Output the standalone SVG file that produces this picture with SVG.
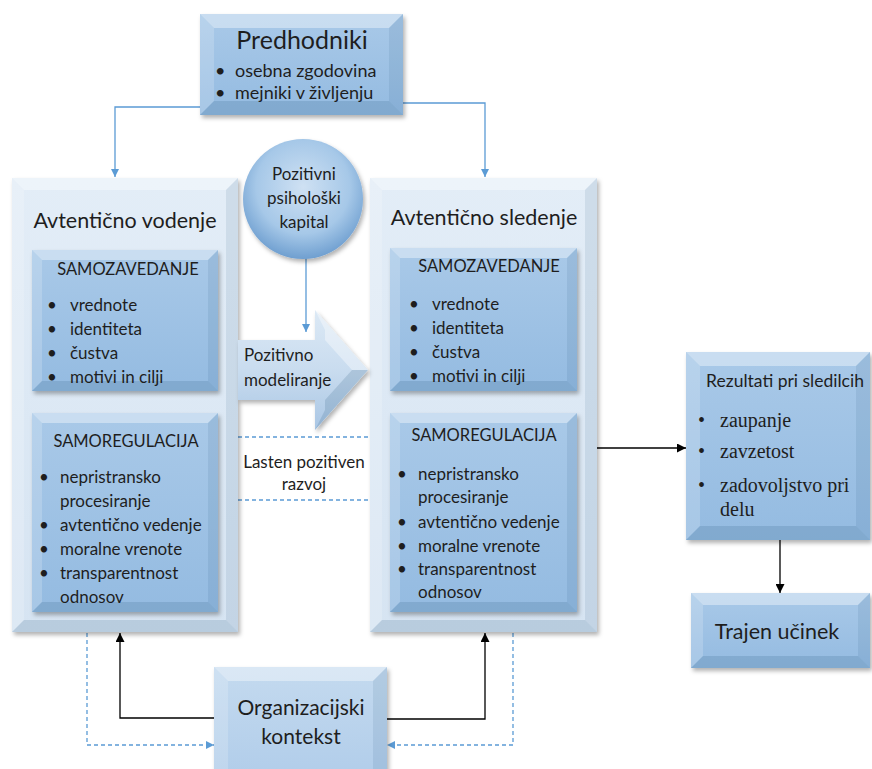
<svg xmlns="http://www.w3.org/2000/svg" width="872" height="769" viewBox="0 0 872 769">
  <defs>
    <style>
      .sans { font-family: Lato, "Liberation Sans", sans-serif; fill: #1e1e1e; }
      .serif { font-family: "Liberation Serif", "DejaVu Serif", serif; fill: #1e1e1e; }
      .bt { fill: #ffffff; opacity: 0.38; }
      .bl { fill: #ffffff; opacity: 0.18; }
      .br { fill: #1f4e79; opacity: 0.10; }
      .bb { fill: #1f4e79; opacity: 0.16; }
      .mid { fill: url(#gMid); }
      .pale { fill: url(#gPale); }
      .soft { fill: url(#gSoft); }
      .blue { stroke: #5b9bd5; stroke-width: 1.3; fill: none; }
      .dash { stroke-dasharray: 4 3; }
      .black { stroke: #000; stroke-width: 1.3; fill: none; }
    </style>
    <linearGradient id="gMid" x1="0" y1="0" x2="0" y2="1">
      <stop offset="0" stop-color="#a9c9e8"/>
      <stop offset="1" stop-color="#94bbe1"/>
    </linearGradient>
    <linearGradient id="gPale" x1="0" y1="0" x2="0" y2="1">
      <stop offset="0" stop-color="#e3edf7"/>
      <stop offset="1" stop-color="#d6e4f2"/>
    </linearGradient>
    <linearGradient id="gSoft" x1="0" y1="0" x2="0" y2="1">
      <stop offset="0" stop-color="#c4daef"/>
      <stop offset="1" stop-color="#b1cdea"/>
    </linearGradient>
    <linearGradient id="gArrow" x1="0" y1="0" x2="0" y2="1">
      <stop offset="0" stop-color="#dce9f5"/>
      <stop offset="0.5" stop-color="#c9dcef"/>
      <stop offset="1" stop-color="#a9c6e4"/>
    </linearGradient>
    <radialGradient id="gBall" cx="0.5" cy="0.4" r="0.6">
      <stop offset="0" stop-color="#cfe1f3"/>
      <stop offset="0.65" stop-color="#a6c8e8"/>
      <stop offset="1" stop-color="#6f9fd0"/>
    </radialGradient>
    <filter id="shadow" x="-10%" y="-10%" width="130%" height="130%">
      <feDropShadow dx="2" dy="3" stdDeviation="2" flood-color="#000" flood-opacity="0.3"/>
    </filter>
    <marker id="ab" viewBox="0 0 10 10" refX="10" refY="5" markerWidth="8" markerHeight="8" markerUnits="userSpaceOnUse" orient="auto">
      <path d="M0,0 L10,5 L0,10 z" fill="#5b9bd5"/>
    </marker>
    <marker id="ak" viewBox="0 0 10 10" refX="10" refY="5" markerWidth="9" markerHeight="9" markerUnits="userSpaceOnUse" orient="auto">
      <path d="M0,0 L10,5 L0,10 z" fill="#000"/>
    </marker>
  </defs>

  <rect width="872" height="769" fill="#ffffff"/>

  <!-- connectors -->
  <g id="connectors">
    <path class="blue" d="M200,107 H115 V177" marker-end="url(#ab)"/>
    <path class="blue" d="M403,103 H485 V177" marker-end="url(#ab)"/>
    <path class="blue" d="M306,258 V332" marker-end="url(#ab)"/>
    <path class="blue dash" d="M238,437 H370"/>
    <path class="blue dash" d="M238,500 H370"/>
    <path class="black" d="M597,448 H686" marker-end="url(#ak)"/>
    <path class="black" d="M780,540 V593" marker-end="url(#ak)"/>
    <path class="black" d="M214,718 H120 V633" marker-end="url(#ak)"/>
    <path class="black" d="M387,719 H485 V633" marker-end="url(#ak)"/>
    <path class="blue dash" d="M87,633 V745 H214" marker-end="url(#ab)"/>
    <path class="blue dash" d="M513,633 V745 H387" marker-end="url(#ab)"/>
  </g>

  <!-- antecedents -->
  <g id="predhodniki" class="sans">
    <rect x="200" y="14" width="203" height="101" class="mid" filter="url(#shadow)"/>
    <polygon class="bt" points="200,14 403,14 389,28 214,28"/>
    <polygon class="bl" points="200,14 214,28 214,101 200,115"/>
    <polygon class="br" points="403,14 403,115 389,101 389,28"/>
    <polygon class="bb" points="200,115 214,101 389,101 403,115"/>
    <text x="302" y="49" font-size="25" text-anchor="middle">Predhodniki</text>
    <text x="215" y="77" font-size="18">•</text>
    <text x="235" y="77" font-size="18">osebna zgodovina</text>
    <text x="215" y="99" font-size="18">•</text>
    <text x="235" y="99" font-size="18">mejniki v življenju</text>
  </g>

  <!-- authentic leadership -->
  <g id="avtenticno-vodenje" class="sans">
    <rect x="12" y="178" width="226" height="454" class="pale" filter="url(#shadow)"/>
    <polygon class="bt" points="12,178 238,178 226,190 24,190"/>
    <polygon class="bl" points="12,178 24,190 24,620 12,632"/>
    <polygon class="br" points="238,178 238,632 226,620 226,190"/>
    <polygon class="bb" points="12,632 24,620 226,620 238,632"/>
    <text x="125" y="228" font-size="21.5" text-anchor="middle">Avtentično vodenje</text>
  </g>

  <g id="vodenje-samozavedanje" class="sans">
    <rect x="32" y="250" width="186" height="141" class="mid" filter="url(#shadow)"/>
    <polygon class="bt" points="32,250 218,250 208,260 42,260"/>
    <polygon class="bl" points="32,250 42,260 42,381 32,391"/>
    <polygon class="br" points="218,250 218,391 208,381 208,260"/>
    <polygon class="bb" points="32,391 42,381 208,381 218,391"/>
    <text x="128" y="275" font-size="16.5" text-anchor="middle">SAMOZAVEDANJE</text>
    <g font-size="17">
      <text x="47" y="311">•</text><text x="70" y="311">vrednote</text>
      <text x="47" y="335">•</text><text x="70" y="335">identiteta</text>
      <text x="47" y="359">•</text><text x="70" y="359">čustva</text>
      <text x="47" y="383">•</text><text x="70" y="383">motivi in cilji</text>
    </g>
  </g>

  <g id="vodenje-samoregulacija" class="sans">
    <rect x="32" y="413" width="186" height="199" class="mid" filter="url(#shadow)"/>
    <polygon class="bt" points="32,413 218,413 208,423 42,423"/>
    <polygon class="bl" points="32,413 42,423 42,602 32,612"/>
    <polygon class="br" points="218,413 218,612 208,602 208,423"/>
    <polygon class="bb" points="32,612 42,602 208,602 218,612"/>
    <text x="126" y="447" font-size="16.5" text-anchor="middle">SAMOREGULACIJA</text>
    <g font-size="17">
      <text x="39" y="483">•</text><text x="60" y="483">nepristransko</text>
      <text x="60" y="507">procesiranje</text>
      <text x="39" y="531">•</text><text x="60" y="531">avtentično vedenje</text>
      <text x="39" y="555">•</text><text x="60" y="555">moralne vrenote</text>
      <text x="39" y="579">•</text><text x="60" y="579">transparentnost</text>
      <text x="60" y="603">odnosov</text>
    </g>
  </g>

  <!-- authentic followership -->
  <g id="avtenticno-sledenje" class="sans">
    <rect x="370" y="178" width="227" height="454" class="pale" filter="url(#shadow)"/>
    <polygon class="bt" points="370,178 597,178 585,190 382,190"/>
    <polygon class="bl" points="370,178 382,190 382,620 370,632"/>
    <polygon class="br" points="597,178 597,632 585,620 585,190"/>
    <polygon class="bb" points="370,632 382,620 585,620 597,632"/>
    <text x="484" y="225" font-size="21.5" text-anchor="middle">Avtentično sledenje</text>
  </g>

  <g id="sledenje-samozavedanje" class="sans">
    <rect x="390" y="248" width="187" height="143" class="mid" filter="url(#shadow)"/>
    <polygon class="bt" points="390,248 577,248 567,258 400,258"/>
    <polygon class="bl" points="390,248 400,258 400,381 390,391"/>
    <polygon class="br" points="577,248 577,391 567,381 567,258"/>
    <polygon class="bb" points="390,391 400,381 567,381 577,391"/>
    <text x="489" y="272" font-size="16.5" text-anchor="middle">SAMOZAVEDANJE</text>
    <g font-size="17">
      <text x="409" y="310">•</text><text x="432" y="310">vrednote</text>
      <text x="409" y="334">•</text><text x="432" y="334">identiteta</text>
      <text x="409" y="358">•</text><text x="432" y="358">čustva</text>
      <text x="409" y="382">•</text><text x="432" y="382">motivi in cilji</text>
    </g>
  </g>

  <g id="sledenje-samoregulacija" class="sans">
    <rect x="390" y="413" width="187" height="199" class="mid" filter="url(#shadow)"/>
    <polygon class="bt" points="390,413 577,413 567,423 400,423"/>
    <polygon class="bl" points="390,413 400,423 400,602 390,612"/>
    <polygon class="br" points="577,413 577,612 567,602 567,423"/>
    <polygon class="bb" points="390,612 400,602 567,602 577,612"/>
    <text x="484" y="441" font-size="16.5" text-anchor="middle">SAMOREGULACIJA</text>
    <g font-size="17">
      <text x="397" y="480">•</text><text x="418" y="480">nepristransko</text>
      <text x="418" y="503">procesiranje</text>
      <text x="397" y="528">•</text><text x="418" y="528">avtentično vedenje</text>
      <text x="397" y="552">•</text><text x="418" y="552">moralne vrenote</text>
      <text x="397" y="575">•</text><text x="418" y="575">transparentnost</text>
      <text x="418" y="598">odnosov</text>
    </g>
  </g>

  <!-- psychological capital -->
  <g id="psiholoski-kapital" class="sans">
    <circle cx="303" cy="199" r="60" fill="url(#gBall)" filter="url(#shadow)"/>
    <g font-size="17" text-anchor="middle">
      <text x="304" y="180">Pozitivni</text>
      <text x="304" y="204">psihološki</text>
      <text x="304" y="228">kapital</text>
    </g>
  </g>

  <!-- positive modelling arrow -->
  <g id="pozitivno-modeliranje" class="sans">
    <polygon points="238,340 315,340 315,310 368,370 315,430 315,400 238,400" fill="url(#gArrow)" filter="url(#shadow)"/>
    <polygon class="bt" points="315,310 368,370 352,370 325,340 325,330"/>
    <polygon class="bb" points="315,430 368,370 352,370 325,400 325,410"/>
    <g font-size="17">
      <text x="244" y="361">Pozitivno</text>
      <text x="244" y="386">modeliranje</text>
    </g>
  </g>

  <!-- positive self-development label -->
  <g id="lasten-razvoj" class="sans">
    <text x="304" y="468" font-size="17" text-anchor="middle">Lasten pozitiven</text>
    <text x="304" y="490" font-size="17" text-anchor="middle">razvoj</text>
  </g>

  <!-- follower outcomes -->
  <g id="rezultati">
    <rect x="686" y="352" width="184" height="188" class="mid" filter="url(#shadow)"/>
    <polygon class="bt" points="686,352 870,352 856,366 700,366"/>
    <polygon class="bl" points="686,352 700,366 700,526 686,540"/>
    <polygon class="br" points="870,352 870,540 856,526 856,366"/>
    <polygon class="bb" points="686,540 700,526 856,526 870,540"/>
    <text class="sans" x="785" y="387" font-size="17.5" text-anchor="middle">Rezultati pri sledilcih</text>
    <g class="serif" font-size="20">
      <text x="698" y="427">•</text><text x="720" y="427">zaupanje</text>
      <text x="698" y="458">•</text><text x="720" y="458">zavzetost</text>
      <text x="698" y="492">•</text><text x="720" y="492">zadovoljstvo pri</text>
      <text x="720" y="516">delu</text>
    </g>
  </g>

  <g id="trajen-ucinek" class="sans">
    <rect x="691" y="593" width="179" height="75" class="mid" filter="url(#shadow)"/>
    <polygon class="bt" points="691,593 870,593 858,605 703,605"/>
    <polygon class="bl" points="691,593 703,605 703,656 691,668"/>
    <polygon class="br" points="870,593 870,668 858,656 858,605"/>
    <polygon class="bb" points="691,668 703,656 858,656 870,668"/>
    <text x="777" y="639" font-size="21.5" text-anchor="middle">Trajen učinek</text>
  </g>

  <!-- organisational context -->
  <g id="organizacijski-kontekst" class="sans">
    <rect x="214" y="667" width="173" height="110" class="soft" filter="url(#shadow)"/>
    <polygon class="bt" points="214,667 387,667 373,681 228,681"/>
    <polygon class="bl" points="214,667 228,681 228,769 214,769"/>
    <polygon class="br" points="387,667 387,769 373,769 373,681"/>
    <g font-size="21" text-anchor="middle">
      <text x="301" y="715">Organizacijski</text>
      <text x="301" y="744">kontekst</text>
    </g>
  </g>
</svg>
